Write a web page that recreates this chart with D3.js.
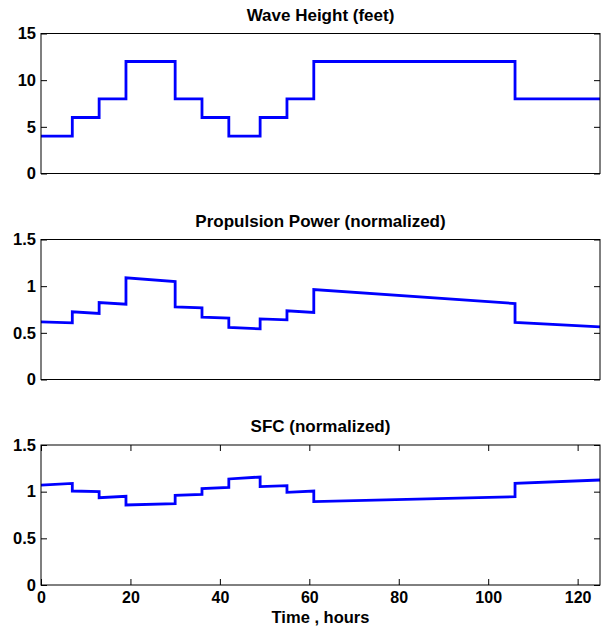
<!DOCTYPE html>
<html>
<head>
<meta charset="utf-8">
<script src="https://cdn.jsdelivr.net/npm/d3@7/dist/d3.min.js"></script>
<style>
  html, body { margin: 0; padding: 0; background: #fff; }
  svg { display: block; }
  text { font-family: "Liberation Sans", Arial, Helvetica, sans-serif; font-weight: bold; fill: #000; }
</style>
</head>
<body>
<svg id="chart" width="602" height="627"></svg>
<script>
// Segment boundaries (hours)
const breakTimes = [0, 7, 13, 19, 30, 36, 42, 49, 55, 61, 106, 125];

// Wave height per segment (feet)
const waveHeight = [4, 6, 8, 12, 8, 6, 4, 6, 8, 12, 8];

// Propulsion power (normalized): value at start and end of each segment
const powerStart = [0.618, 0.725, 0.825, 1.089, 0.779, 0.668, 0.557, 0.650, 0.736, 0.964, 0.611];
const powerEnd   = [0.607, 0.707, 0.807, 1.050, 0.768, 0.657, 0.543, 0.639, 0.718, 0.814, 0.564];

// SFC (normalized): value at start and end of each segment
const sfcStart = [1.071, 1.007, 0.935, 0.857, 0.960, 1.032, 1.136, 1.054, 0.993, 0.893, 1.089];
const sfcEnd   = [1.089, 1.000, 0.950, 0.871, 0.971, 1.046, 1.157, 1.064, 1.007, 0.946, 1.125];

// Axis ticks
const xTicks = [0, 20, 40, 60, 80, 100, 120];
const waveTicks = [0, 5, 10, 15];
const normTicks = [0, 0.5, 1, 1.5];

const svg = d3.select("#chart");
const left = 41, right = 600;
const x = d3.scaleLinear().domain([0, 125]).range([left, right]);

function segPoints(startVals, endVals) {
  const pts = [];
  startVals.forEach((v, i) => {
    pts.push([breakTimes[i], v]);
    pts.push([breakTimes[i + 1], endVals[i]]);
  });
  return pts;
}

const panels = [
  { title: "Wave Height (feet)", top: 33.5, domain: [0, 15], ticks: waveTicks,
    points: segPoints(waveHeight, waveHeight), xAxis: false, titleY: 21 },
  { title: "Propulsion Power (normalized)", top: 239.5, domain: [0, 1.5], ticks: normTicks,
    points: segPoints(powerStart, powerEnd), xAxis: false, titleY: 227 },
  { title: "SFC (normalized)", top: 445, domain: [0, 1.5], ticks: normTicks,
    points: segPoints(sfcStart, sfcEnd), xAxis: true, titleY: 432 }
];

const H = 140, tickLen = 6;

panels.forEach(p => {
  const y = d3.scaleLinear().domain(p.domain).range([p.top + H, p.top]);
  const g = svg.append("g");

  // data line
  const line = d3.line().x(d => x(d[0])).y(d => y(d[1]));
  g.append("path")
    .datum(p.points)
    .attr("d", line)
    .attr("fill", "none")
    .attr("stroke", "#0000ff")
    .attr("stroke-width", 2.8)
    .attr("stroke-linejoin", "miter");

  // left axis: inward ticks, labels outside
  const yl = d3.axisLeft(y).tickValues(p.ticks).tickFormat(d => String(d))
    .tickSizeInner(-tickLen).tickSizeOuter(0).tickPadding(5);
  const gl = g.append("g").attr("transform", `translate(${left},0)`).call(yl);
  // right axis: ticks only
  const yr = d3.axisRight(y).tickValues(p.ticks).tickFormat("")
    .tickSizeInner(-tickLen).tickSizeOuter(0);
  const gr = g.append("g").attr("transform", `translate(${right},0)`).call(yr);

  [gl, gr].forEach(a => {
    a.select(".domain").remove();
    a.selectAll(".tick line").attr("stroke", "#000");
  });
  gl.selectAll(".tick text").style("font-size", "16.5px").attr("fill", "#000");

  if (p.xAxis) {
    const xb = d3.axisBottom(x).tickValues(xTicks).tickFormat(d => String(d))
      .tickSizeInner(-tickLen).tickSizeOuter(0).tickPadding(7);
    const gb = g.append("g").attr("transform", `translate(0,${p.top + H})`).call(xb);
    const xt = d3.axisTop(x).tickValues(xTicks).tickFormat("")
      .tickSizeInner(-tickLen).tickSizeOuter(0);
    const gt = g.append("g").attr("transform", `translate(0,${p.top})`).call(xt);
    [gb, gt].forEach(a => {
      a.select(".domain").remove();
      a.selectAll(".tick line").attr("stroke", "#000");
    });
    gb.selectAll(".tick text").style("font-size", "16px").attr("fill", "#000");
  }

  // frame
  g.append("rect")
    .attr("x", left).attr("y", p.top)
    .attr("width", right - left).attr("height", H)
    .attr("fill", "none").attr("stroke", "#000").attr("stroke-width", 1);

  // title
  g.append("text")
    .attr("x", (left + right) / 2).attr("y", p.titleY)
    .attr("text-anchor", "middle")
    .style("font-size", "17px")
    .text(p.title);
});

// x-axis label
svg.append("text")
  .attr("x", (left + right) / 2).attr("y", 623)
  .attr("text-anchor", "middle")
  .style("font-size", "16.5px")
  .text("Time , hours");
</script>
</body>
</html>
